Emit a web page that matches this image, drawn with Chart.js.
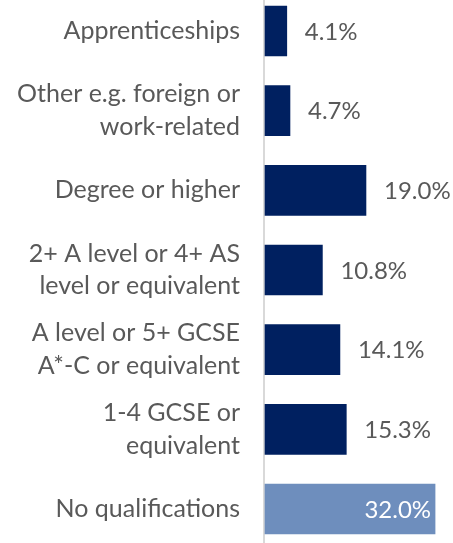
<!DOCTYPE html>
<html>
<head>
<meta charset="utf-8">
<script src="https://cdn.jsdelivr.net/npm/chart.js@4"></script>
<style>
  html, body { margin: 0; padding: 0; background: #fff; }
  #wrap { width: 453px; height: 543px; position: relative; }
</style>
</head>
<body>
<div id="wrap"><canvas id="qualChart"></canvas></div>
<script>
// Highest qualification share
const categories = [
    'Apprenticeships',
    ['Other e.g. foreign or', 'work-related'],
    'Degree or higher',
    ['2+ A level or 4+ AS', 'level or equivalent'],
    ['A level or 5+ GCSE', 'A*-C or equivalent'],
    ['1-4 GCSE or', 'equivalent'],
    'No qualifications'
];
const shares = [4.1, 4.7, 19.0, 10.8, 14.1, 15.3, 32.0];
const valueLabels = ['4.1%', '4.7%', '19.0%', '10.8%', '14.1%', '15.3%', '32.0%'];

const darkBlue = '#002060';
const lightBlue = '#6e8ebd';
const textGrey = '#595959';
const fontFamily = 'Lato, "Open Sans", sans-serif';

// highlight the last bar
const barColors = shares.map((v, i) => i === shares.length - 1 ? lightBlue : darkBlue);

// full-height axis line
const axisLine = {
    id: 'axisLine',
    beforeDatasetsDraw(chart) {
        const ctx = chart.ctx;
        const x = chart.chartArea.left - 1;
        ctx.save();
        ctx.strokeStyle = '#d9d9d9';
        ctx.lineWidth = 2;
        ctx.beginPath();
        ctx.moveTo(x, 0);
        ctx.lineTo(x, chart.height);
        ctx.stroke();
        ctx.restore();
    }
};

// value labels next to (or inside) the bars
const valueText = {
    id: 'valueText',
    afterDatasetsDraw(chart) {
        const ctx = chart.ctx;
        const meta = chart.getDatasetMeta(0);
        ctx.save();
        ctx.font = '24px ' + fontFamily;
        ctx.textBaseline = 'middle';
        meta.data.forEach((bar, i) => {
            if (i === shares.length - 1) {
                ctx.fillStyle = '#ffffff';
                ctx.textAlign = 'right';
                ctx.fillText(valueLabels[i], bar.x - 4, bar.y + 1);
            } else {
                ctx.fillStyle = textGrey;
                ctx.textAlign = 'left';
                ctx.fillText(valueLabels[i], bar.x + 18, bar.y + 1);
            }
        });
        ctx.restore();
    }
};

new Chart(document.getElementById('qualChart'), {
    type: 'bar',
    data: {
        labels: categories,
        datasets: [{
            data: shares,
            backgroundColor: barColors,
            barThickness: 50,
            clip: false
        }]
    },
    options: {
        indexAxis: 'y',
        responsive: true,
        maintainAspectRatio: false,
        animation: false,
        layout: {
            padding: { top: 31, bottom: 34, left: 0, right: 2 }
        },
        plugins: {
            legend: { display: false },
            tooltip: { enabled: false }
        },
        scales: {
            x: {
                display: false,
                min: 0,
                max: 35
            },
            y: {
                offset: false,
                afterFit: function(scale) {
                    scale.width = 265;
                    scale.paddingTop = 0;
                    scale.paddingBottom = 0;
                },
                grid: { display: false, drawTicks: false },
                border: { display: false },
                ticks: {
                    padding: 25,
                    color: textGrey,
                    font: { family: fontFamily, size: 25, lineHeight: 1.3 }
                }
            }
        }
    },
    plugins: [axisLine, valueText]
});
</script>
</body>
</html>
